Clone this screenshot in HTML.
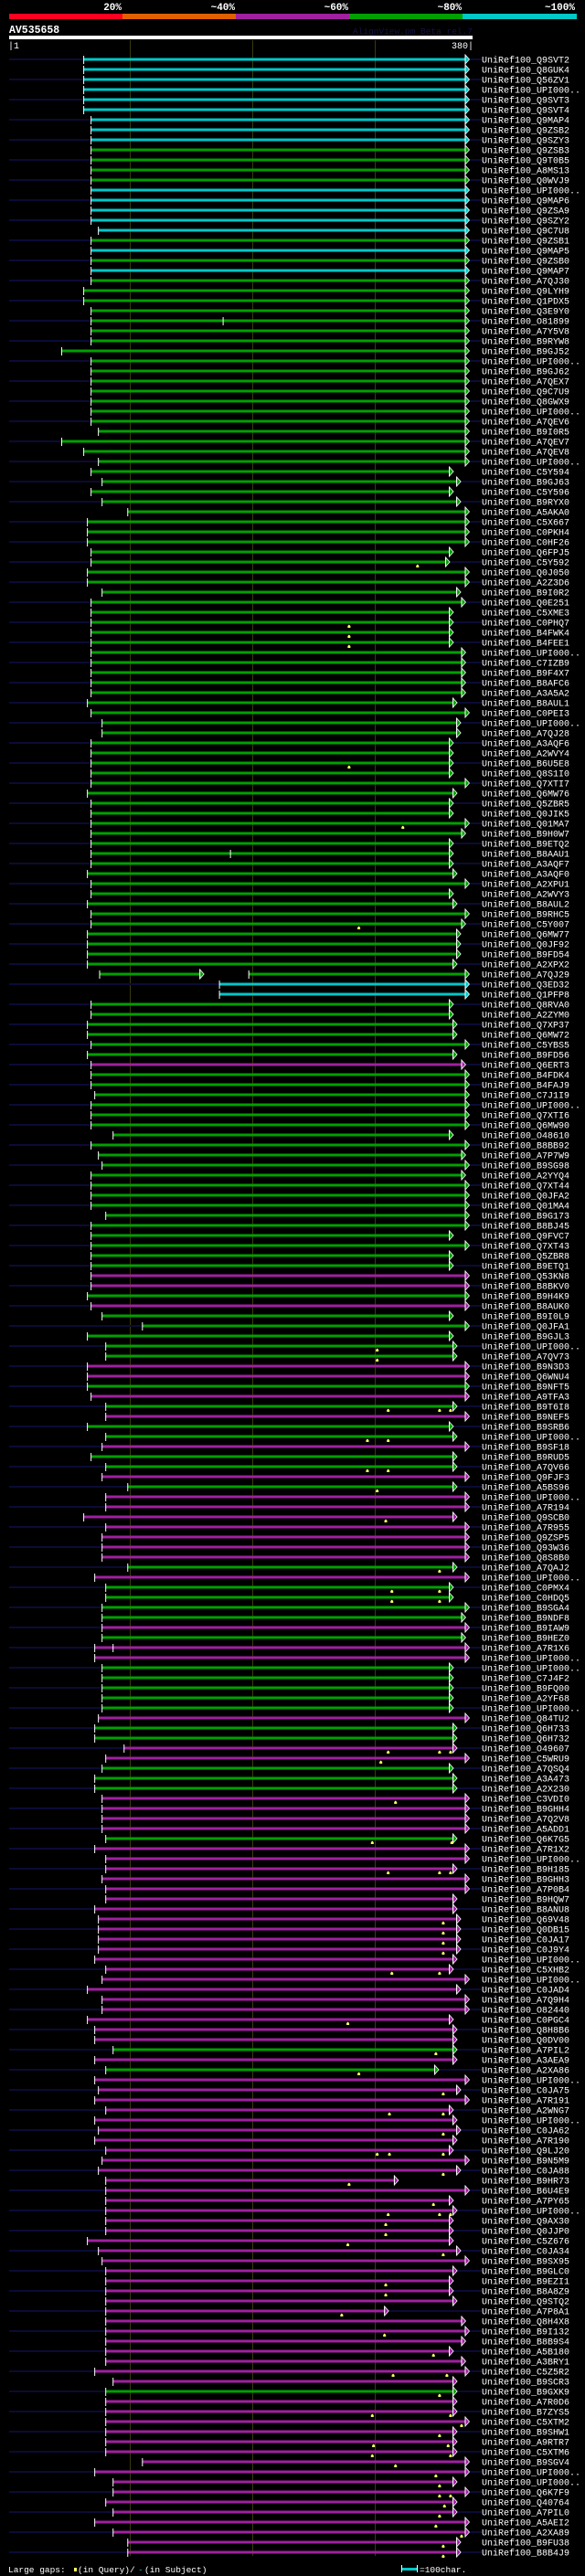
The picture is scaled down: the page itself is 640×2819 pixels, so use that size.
<!DOCTYPE html>
<html><head><meta charset="utf-8"><title>AV535658 alignment</title>
<style>
html,body{margin:0;padding:0;background:#000;}
#wrap{position:relative;width:640px;height:2819px;overflow:hidden;background:#000;}
svg{display:block;}
</style></head>
<body>
<div id="wrap">
<svg id="chart" width="640" height="2819" viewBox="0 0 640 2819" xmlns="http://www.w3.org/2000/svg" font-family="'Liberation Mono', monospace">
  <g>
    <rect x="10" y="15" width="124" height="6" fill="#ff0020"/>
    <rect x="134" y="15" width="124" height="6" fill="#e06000"/>
    <rect x="258" y="15" width="124" height="6" fill="#a020a0"/>
    <rect x="382" y="15" width="124" height="6" fill="#00a000"/>
    <rect x="506" y="15" width="125" height="6" fill="#00c8c8"/>
    <g fill="#fff" font-weight="bold" font-size="11" text-anchor="end">
      <text x="133" y="11">20%</text>
      <text x="257" y="11">~40%</text>
      <text x="381" y="11">~60%</text>
      <text x="505" y="11">~80%</text>
      <text x="629" y="11">~100%</text>
    </g>
  </g>
  <text x="10" y="36" fill="#fff" font-weight="bold" font-size="11.5">AV535658</text>
  <text x="517" y="37" fill="#141448" font-size="9.5" text-anchor="end">AlignView.pm Beta rel.7</text>
  <rect x="10" y="39" width="507" height="4" fill="#fff"/>
  <text x="9" y="53" fill="#fff" font-size="10">|1</text>
  <text x="518" y="53" fill="#fff" font-size="10" text-anchor="end">380|</text>
  <g id="grid"></g>
  <g id="rows"></g>
  <g>
    <text x="9" y="2815" fill="#fff" font-size="9.5">Large gaps:</text>
    <rect x="81" y="2810" width="3" height="4" fill="#ffff60"/>
    <text x="85" y="2815" fill="#fff" font-size="9.5">(in Query)/</text>
    <text x="151" y="2815" fill="#00c8c8" font-size="9.5">-</text>
    <text x="158" y="2815" fill="#fff" font-size="9.5">(in Subject)</text>
    <rect x="439" y="2810" width="17" height="3" fill="#00c8c8"/>
    <rect x="439" y="2807" width="1" height="8" fill="#fff"/>
    <rect x="456" y="2807" width="1" height="8" fill="#fff"/>
    <text x="459" y="2815" fill="#fff" font-size="9.5">=100char.</text>
  </g>
</svg>
</div>
<script>
const labels = ["Q9SVT2","Q8GUK4","Q56ZV1","UPI000..","Q9SVT3","Q9SVT4","Q9MAP4","Q9ZSB2","Q9SZY3","Q9ZSB3",
"Q9T0B5","A8MS13","Q0WVJ9","UPI000..","Q9MAP6","Q9ZSA9","Q9SZY2","Q9C7U8","Q9ZSB1","Q9MAP5",
"Q9ZSB0","Q9MAP7","A7QJ30","Q9LYH9","Q1PDX5","Q3E9Y0","O81899","A7Y5V8","B9RYW8","B9GJ52",
"UPI000..","B9GJ62","A7QEX7","Q9C7U9","Q8GWX9","UPI000..","A7QEV6","B9I0R5","A7QEV7","A7QEV8",
"UPI000..","C5Y594","B9GJ63","C5Y596","B9RYX0","A5AKA0","C5X667","C0PKH4","C0HF26","Q6FPJ5",
"C5Y592","Q0J050","A2Z3D6","B9I0R2","Q0E251","C5XME3","C0PHQ7","B4FWK4","B4FEE1","UPI000..",
"C7IZB9","B9F4X7","B8AFC6","A3A5A2","B8AUL1","C0PEI3","UPI000..","A7QJ28","A3AQF6","A2WVY4",
"B6U5E8","Q8S1I0","Q7XTI7","Q6MW76","Q5ZBR5","Q0JIK5","Q01MA7","B9H0W7","B9ETQ2","B8AAU1",
"A3AQF7","A3AQF0","A2XPU1","A2WVY3","B8AUL2","B9RHC5","C5Y007","Q6MW77","Q0JF92","B9FD54",
"A2XPX2","A7QJ29","Q3ED32","Q1PFP8","Q8RVA0","A2ZYM0","Q7XP37","Q6MW72","C5YBS5","B9FD56",
"Q6ERT3","B4FDK4","B4FAJ9","C7J1I9","UPI000..","Q7XTI6","Q6MW90","O48610","B8BB92","A7P7W9",
"B9SG98","A2YYQ4","Q7XT44","Q0JFA2","Q01MA4","B9G173","B8BJ45","Q9FVC7","Q7XT43","Q5ZBR8",
"B9ETQ1","Q53KN8","B8BKV0","B9H4K9","B8AUK0","B9I0L9","Q0JFA1","B9GJL3","UPI000..","A7QV73",
"B9N3D3","Q6WNU4","B9NFT5","A9TFA3","B9T6I8","B9NEF5","B9SRB6","UPI000..","B9SF18","B9RUD5",
"A7QV66","Q9FJF3","A5BS96","UPI000..","A7R194","Q9SCB0","A7R955","Q9ZSP5","Q93W36","Q8S8B0",
"A7QAJ2","UPI000..","C0PMX4","C0HDQ5","B9SGA4","B9NDF8","B9IAW9","B9HEZ0","A7R1X6","UPI000..",
"UPI000..","C7J4F2","B9FQ00","A2YF68","UPI000..","Q84TU2","Q6H733","Q6H732","O49607","C5WRU9",
"A7QSQ4","A3A473","A2X230","C3VDI0","B9GHH4","A7Q2V8","A5ADD1","Q6K7G5","A7R1X2","UPI000..",
"B9H185","B9GHH3","A7P0B4","B9HQW7","B8ANU8","Q69V48","Q0DB15","C0JA17","C0J9Y4","UPI000..",
"C5XHB2","UPI000..","C0JAD4","A7Q9H4","O82440","C0PGC4","Q8H8B6","Q0DV00","A7PIL2","A3AEA9",
"A2XA86","UPI000..","C0JA75","A7R191","A2WNG7","UPI000..","C0JA62","A7R190","Q9LJ20","B9N5M9",
"C0JA88","B9HR73","B6U4E9","A7PY65","UPI000..","Q9AX30","Q0JJP0","C5Z676","C0JA34","B9SX95",
"B9GLC0","B9EZI1","B8A8Z9","Q9STQ2","A7P8A1","Q8H4X8","B9I132","B8B9S4","A5B180","A3BRY1",
"C5Z5R2","B9SCR3","B9GXK9","A7R0D6","B7ZYS5","C5XTM2","B9SHW1","A9RTR7","C5XTM6","B9SGV4",
"UPI000..","UPI000..","Q6K7F9","Q40764","A7PIL0","A5AEI2","A2XA89","B9FU38","B8B4J9"];

const identityClass = ("cccccccccg"+"gggcccccgc"+"gcgggggggg"+"gggggggggg"+"gggggggggg"+
"gggggggggg"+"gggggggggg"+"gggggggggg"+"gggggggggg"+"ggccgggggg"+
"mggggggggg"+"gggggggggg"+"gmmgmggggg"+"mmgmgmggmg"+"gmgmmmmmmm"+
"gmggggmgmm"+"gggggmggmm"+"gggmmmmgmm"+"mmmmmmmmmm"+"mmmmmmmmgm"+
"gmmmmmmmmm"+"mmmmmmmmmm"+"mmmmmmmmmm"+"mmgmmmmmmm"+"mmmmmmmmm").split("");

const starts = [62,62,62,62,62,62,68,68,68,68, 68,68,68,68,68,68,68,74,68,68,
68,68,68,62,62,68,68,68,68,44, 68,68,68,68,68,68,68,74,44,62,
74,68,77,68,77,98,65,65,65,68, 68,65,65,77,68,68,68,68,68,68,
68,68,68,68,65,68,77,77,68,68, 68,68,68,65,68,68,68,68,68,68,
68,65,68,68,65,68,68,65,65,65, 65,75,173,173,68,68,65,65,68,65,
68,68,68,71,68,68,68,86,68,74, 77,68,68,68,68,80,68,68,68,68,
68,68,68,65,68,77,110,65,80,80, 65,65,65,68,80,80,65,80,77,68,
80,77,98,80,80,62,80,77,77,77, 98,71,80,80,77,77,77,77,71,71,
77,77,77,77,77,74,71,71,95,80, 77,71,71,77,77,77,77,80,71,80,
80,77,80,80,71,74,74,74,74,71, 80,77,65,77,77,65,71,71,86,71,
80,71,74,71,80,71,74,71,80,77, 74,80,80,80,80,80,80,65,74,77,
80,80,80,80,80,80,80,80,80,80, 71,86,80,80,80,80,80,80,80,110,
71,86,86,80,86,71,86,98,98];

const ends = [374,374,374,374,374,374,374,374,374,374, 374,374,374,374,374,374,374,374,374,374,
374,374,374,374,374,374,374,374,374,374, 374,374,374,374,374,374,374,374,374,374,
374,361,367,361,367,374,374,374,374,361, 358,374,374,367,371,361,361,361,361,371,
371,371,371,371,364,374,367,367,361,361, 361,361,374,364,361,361,374,371,361,361,
361,364,374,361,364,374,371,367,367,367, 364,374,374,374,361,361,364,364,374,364,
371,374,374,374,374,374,374,361,374,371, 374,371,374,374,374,374,374,361,374,361,
361,374,374,374,374,361,374,361,364,364, 374,374,374,374,364,374,361,364,374,364,
364,374,364,374,374,364,374,374,374,374, 364,374,361,361,374,371,374,371,374,374,
361,361,361,361,361,374,364,364,364,374, 361,364,364,374,374,374,374,364,374,374,
364,374,374,364,364,367,367,367,367,364, 361,374,367,374,374,361,364,364,364,364,
349,374,367,374,361,364,367,364,361,374, 367,316,374,361,364,361,361,361,367,374,
364,361,361,364,308,371,374,371,361,371, 374,364,364,364,364,374,364,364,364,374,
374,364,374,364,364,374,374,367,367];

// [row, residue] pairs
const splitRows = [[91,157,197]];
const startTicks = [[26,176],[79,182],[158,86]];
const queryGaps = [[50,335],[56,279],[57,279],[58,279],[70,279],[76,323],[86,287],[128,302],[129,302],
[134,311],[134,353],[134,362],[137,294],[137,311],[140,294],[140,311],[142,302],[145,309],[150,353],
[152,314],[152,353],[153,314],[153,353],[168,311],[168,353],[168,362],[169,305],[173,317],[177,298],
[177,363],[180,311],[180,353],[180,362],[185,356],[186,356],[187,356],[188,356],[190,314],[190,353],
[195,278],[198,350],[200,287],[202,356],[204,312],[204,356],[206,356],[208,302],[208,312],[208,356],
[210,356],[211,279],[213,348],[214,311],[214,353],[214,362],[215,309],[216,309],[217,278],[218,356],
[221,309],[222,309],[224,273],[226,308],[228,348],[230,315],[230,359],[232,353],[234,298],[234,362],
[235,371],[236,353],[237,299],[237,360],[238,298],[238,362],[239,317],[240,350],[241,353],[242,353],
[242,362],[243,357],[244,353],[245,350],[246,371],[247,356],[248,356]];
const gridTicks = [100,200,300];

const NS = "http://www.w3.org/2000/svg";
const COLORS = {c:"#00c8c8", g:"#00a000", m:"#a020a0"};
function xScale(r){ return 10 + (r - 1) * (507 / 379); }
function yScale(i){ return 65 + i * 11; }
function mk(tag, attrs, parent){
  const el = document.createElementNS(NS, tag);
  for (const k in attrs) el.setAttribute(k, attrs[k]);
  parent.appendChild(el);
  return el;
}
const grid = document.getElementById("grid");
gridTicks.forEach(function(t){
  const x = Math.round(xScale(t)) + 0.5;
  const l = mk("line", {x1:x, x2:x, y1:44, y2:2797, stroke:"#3a3a0c", "stroke-width":1}, grid);
  
  
});
const rowsG = document.getElementById("rows");
function arrowAt(g, e, y, col){
  const tri = mk("polygon", {points:(e)+","+(y-5)+" "+(e+4.5)+","+(y)+" "+(e)+","+(y+5), fill:col, stroke:"#fff", "stroke-width":0.8}, g);
  
  
  const ln = mk("rect", {x:e-0.5, y:y-5.5, width:1, height:11, fill:"#fff"}, g);
  
  
}
function tickAt(g, s, y){
  const t = mk("rect", {x:s-0.5, y:y-4, width:1, height:9, fill:"#fff"}, g);
  
  
}
labels.forEach(function(lab, i){
  const y = yScale(i);
  const col = COLORS[identityClass[i]];
  const g = mk("g", {}, rowsG);
  
  
  if (i % 2 === 0) {
    const q = mk("rect", {x:10, y:y-1, width:517, height:2, fill:"#0b0b36"}, g);
    
    
  }
  const s = xScale(starts[i]), e = xScale(ends[i]);
  const sp = splitRows.find(function(r){ return r[0] === i; });
  if (sp) {
    const e1 = xScale(sp[1]), s2 = xScale(sp[2]);
    const b1 = mk("rect", {x:s, y:y-1.5, width:e1-s, height:3, fill:col}, g);
    
    
    tickAt(g, s, y); arrowAt(g, e1, y, col);
    const b2 = mk("rect", {x:s2, y:y-1.5, width:e-s2, height:3, fill:col}, g);
    
    
    tickAt(g, s2, y); arrowAt(g, e, y, col);
  } else {
    const b = mk("rect", {x:s, y:y-1.5, width:e-s, height:3, fill:col}, g);
    
    
    tickAt(g, s, y); arrowAt(g, e, y, col);
  }
  const t = mk("text", {x:527, y:y+3.5, fill:"#fff", "font-size":10}, g);
  t.textContent = "UniRef100_" + lab;
  
  
});
startTicks.forEach(function(p){
  const t = mk("rect", {x:xScale(p[1])-0.5, y:yScale(p[0])-4, width:1, height:9, fill:"#fff"}, rowsG);
  
  
});
queryGaps.forEach(function(p){
  const x = xScale(p[1]), y = yScale(p[0]);
  const m = mk("polygon", {points:(x-1.5)+","+(y+6)+" "+(x-1.5)+","+(y+4)+" "+(x)+","+(y+2.5)+" "+(x+1.5)+","+(y+4)+" "+(x+1.5)+","+(y+6), fill:"#ffff60"}, rowsG);
  
  
});
</script>
</body></html>
